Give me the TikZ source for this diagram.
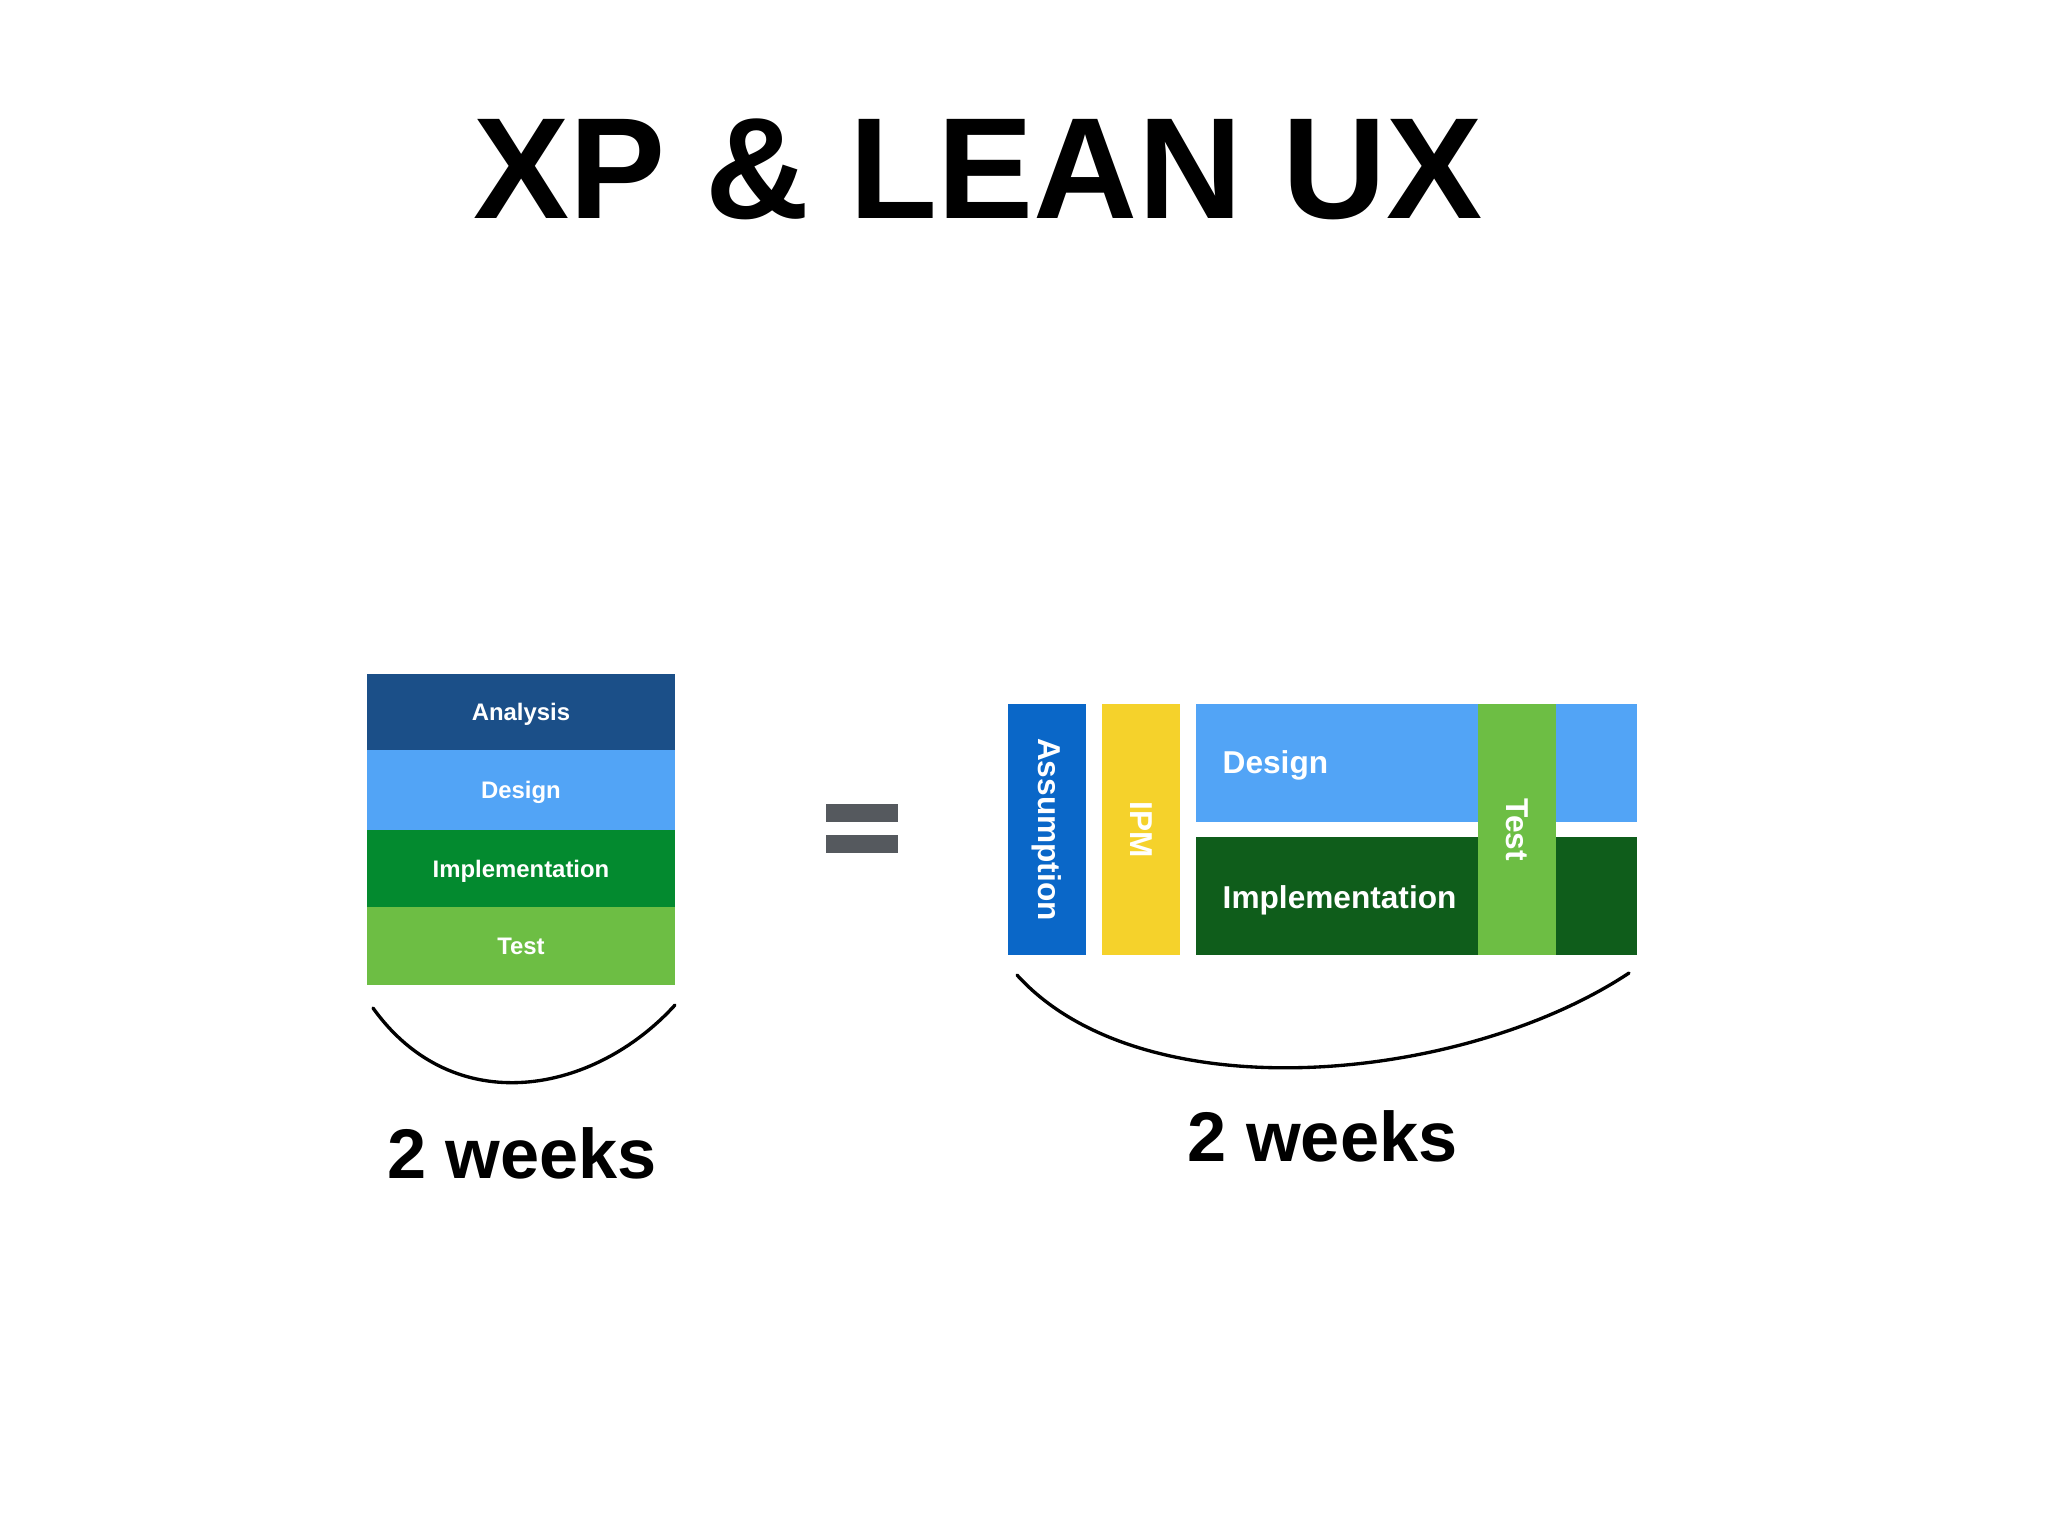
\documentclass[tikz,border=0pt]{standalone}
\usepackage{fontspec}
\setmainfont{Liberation Sans}
\usetikzlibrary{calc}
\definecolor{analysisblue}{HTML}{1B4F88}
\definecolor{designblue}{HTML}{52A4F6}
\definecolor{implgreen}{HTML}{038A2F}
\definecolor{testgreen}{HTML}{6DBE44}
\definecolor{assumblue}{HTML}{0A67C8}
\definecolor{ipmyellow}{HTML}{F5D22B}
\definecolor{impldark}{HTML}{0F5D1B}
\definecolor{eqgray}{HTML}{55595E}

\begin{document}
\begin{tikzpicture}[ x=0.1mm, y=-0.1mm,
      band/.style={ inner sep=0pt, minimum width=30.8mm, text=white,
        text height=4.9pt, text depth=0pt,
        font=\fontsize{6.8}{8}\selectfont\bfseries},
      column/.style={ rotate=-90, inner sep=0pt, minimum width=25.1mm,
        minimum height=7.8mm, text=white, font=\fontsize{9}{11}\selectfont\bfseries},
      label/.style={ anchor=base west, inner sep=0pt, text=white,
        font=\fontsize{9}{11}\selectfont\bfseries},
      weeks/.style={ anchor=base, inner sep=0pt, font=\fontsize{20}{24}\selectfont\bfseries},
      brace/.style={ line width=0.95pt, line cap=round}
      ]
      \useasboundingbox (0,0) rectangle (2048,1536);

      % title
      \node[anchor=base, inner sep=0pt, font=\fontsize{41}{48}\selectfont\bfseries] (title) at (978,218) {XP \& LEAN UX};

      % xp stack
      \node[band, fill=analysisblue, minimum height=7.6mm] (analysis) at (521,712) {Analysis};
      \node[band, fill=designblue, minimum height=8.0mm] (design) at (521,790) {Design};
      \node[band, fill=implgreen, minimum height=7.7mm] (impl) at (521,868.5) {Implementation};
      \node[band, fill=testgreen, minimum height=7.8mm] (test) at (521,946) {Test};

      \draw[brace] (373,1008) .. controls (454,1121) and (594,1094) .. (675,1005);
      \node[weeks] (weeksA) at (522,1178) {2 weeks};

      % equals
      \fill[eqgray] (826,804) rectangle (898,822);
      \fill[eqgray] (826,835) rectangle (898,853);

      % lean ux
      \node[column, fill=assumblue] (assumption) at (1047,829.5) {Assumption};
      \node[column, fill=ipmyellow] (ipm) at (1141,829.5) {IPM};
      \fill[designblue] (1196,704) rectangle (1637,822);
      \fill[impldark] (1196,837) rectangle (1637,955);
      \node[label] (designB) at (1222,773) {Design};
      \node[label] (implB) at (1222,908) {Implementation};
      \node[column, fill=testgreen] (testB) at (1517,829.5) {Test};

      \draw[brace] (1017,975) .. controls (1143,1114) and (1463,1083) .. (1629,973);
      \node[weeks] (weeksB) at (1322.5,1161) {2 weeks};
    \end{tikzpicture}
\end{document}
